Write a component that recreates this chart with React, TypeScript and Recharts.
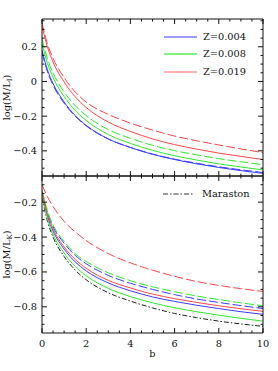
import React from 'react';
import { LineChart, Line, XAxis, YAxis, Legend, Label } from 'recharts';

// b values where the curves are sampled
const bValues = [0, 0.25, 0.5, 1, 1.5, 2, 3, 4, 5, 6, 7, 8, 9, 10];

// top panel: log(M/L_I)
const iZ004Solid = [0.18, 0.066, -0.012, -0.118, -0.196, -0.253, -0.331, -0.381, -0.42, -0.45, -0.475, -0.496, -0.514, -0.53];
const iZ004Dash = [0.165, 0.055, -0.021, -0.125, -0.2, -0.256, -0.332, -0.38, -0.418, -0.448, -0.471, -0.492, -0.509, -0.525];
const iZ008Solid = [0.22, 0.103, 0.023, -0.087, -0.167, -0.225, -0.306, -0.357, -0.397, -0.428, -0.453, -0.475, -0.493, -0.51];
const iZ008Dash = [0.245, 0.129, 0.049, -0.06, -0.139, -0.197, -0.277, -0.328, -0.368, -0.399, -0.423, -0.445, -0.463, -0.48];
const iZ019Solid = [0.32, 0.197, 0.112, -0.003, -0.088, -0.15, -0.234, -0.288, -0.331, -0.364, -0.39, -0.413, -0.432, -0.45];
const iZ019Dash = [0.335, 0.216, 0.134, 0.022, -0.06, -0.119, -0.19, -0.24, -0.28, -0.315, -0.342, -0.366, -0.389, -0.41];

// bottom panel: log(M/L_K)
const kZ004Solid = [-0.15, -0.282, -0.365, -0.469, -0.542, -0.594, -0.663, -0.708, -0.743, -0.769, -0.791, -0.81, -0.828, -0.843];
const kZ004Dash = [-0.14, -0.262, -0.34, -0.435, -0.505, -0.553, -0.62, -0.665, -0.7, -0.73, -0.755, -0.775, -0.793, -0.81];
const kZ008Solid = [-0.16, -0.297, -0.384, -0.492, -0.568, -0.622, -0.694, -0.741, -0.777, -0.805, -0.828, -0.848, -0.866, -0.882];
const kZ008Dash = [-0.13, -0.25, -0.33, -0.425, -0.495, -0.54, -0.605, -0.65, -0.685, -0.713, -0.738, -0.758, -0.777, -0.794];
const kZ019Solid = [-0.14, -0.27, -0.353, -0.456, -0.528, -0.579, -0.648, -0.692, -0.727, -0.753, -0.775, -0.794, -0.811, -0.826];
const kZ019Dash = [-0.1, -0.17, -0.225, -0.31, -0.37, -0.42, -0.495, -0.548, -0.59, -0.625, -0.655, -0.677, -0.696, -0.712];
const kMaraston = [-0.17, -0.311, -0.4, -0.511, -0.589, -0.645, -0.719, -0.767, -0.806, -0.838, -0.862, -0.882, -0.898, -0.912];

// ticks
const xTicks = [0, 0.5, 1, 1.5, 2, 2.5, 3, 3.5, 4, 4.5, 5, 5.5, 6, 6.5, 7, 7.5, 8, 8.5, 9, 9.5, 10];
const xMajor = [0, 2, 4, 6, 8, 10];
const topYTicks = [-0.5, -0.45, -0.4, -0.35, -0.3, -0.25, -0.2, -0.15, -0.1, -0.05, 0, 0.05, 0.1, 0.15, 0.2, 0.25, 0.3, 0.35];
const topYMajor = [-0.4, -0.2, 0, 0.2];
const botYTicks = [-0.9, -0.85, -0.8, -0.75, -0.7, -0.65, -0.6, -0.55, -0.5, -0.45, -0.4, -0.35, -0.3, -0.25, -0.2, -0.15, -0.1];
const botYMajor = [-0.8, -0.6, -0.4, -0.2];

const FONT = '"DejaVu Serif", serif';
const INK = '#111';
const BLUE = '#3c3cff';
const GREEN = '#2ee82e';
const RED = '#ff4646';
const DASH = '9 3';

const topData = bValues.map((b, i) => ({
  b,
  z004: iZ004Solid[i],
  z004d: iZ004Dash[i],
  z008: iZ008Solid[i],
  z008d: iZ008Dash[i],
  z019: iZ019Solid[i],
  z019d: iZ019Dash[i],
}));

const bottomData = bValues.map((b, i) => ({
  b,
  z004: kZ004Solid[i],
  z004d: kZ004Dash[i],
  z008: kZ008Solid[i],
  z008d: kZ008Dash[i],
  z019: kZ019Solid[i],
  z019d: kZ019Dash[i],
  mar: kMaraston[i],
}));

const fmt = (v: number) => {
  if (Math.abs(v) < 1e-9) return '0';
  const s = Number.isInteger(v) ? String(Math.abs(v)) : Math.abs(v).toFixed(1);
  return v < 0 ? '\u2212' + s : s;
};

// ticks point into the plot box; minor ones are shorter
const makeTick = (side: string, labelled: boolean, majors: number[]) => (props: any) => {
  const { x, y, payload } = props;
  const v = payload.value;
  const major = majors.some((m) => Math.abs(m - v) < 1e-6);
  const len = major ? 5 : 2.5;
  let x2 = x;
  let y2 = y;
  if (side === 'left') x2 = x + len;
  if (side === 'right') x2 = x - len;
  if (side === 'top') y2 = y + len;
  if (side === 'bottom') y2 = y - len;
  return (
    <g>
      <line x1={x} y1={y} x2={x2} y2={y2} stroke={INK} strokeWidth={1} />
      {labelled && major && side === 'left' && (
        <text x={x - 5} y={y + 3.5} textAnchor="end" fontFamily={FONT} fontSize={9.8} fill={INK}>
          {fmt(v)}
        </text>
      )}
      {labelled && major && side === 'bottom' && (
        <text x={x} y={y + 13.5} textAnchor="middle" fontFamily={FONT} fontSize={9.8} fill={INK}>
          {fmt(v)}
        </text>
      )}
    </g>
  );
};

const yLabel = (sub: string) => (props: any) => {
  const vb = props.viewBox || { x: 0, y: 0, width: 42, height: 157 };
  const cx = vb.x + 9.5;
  const cy = vb.y + vb.height / 2;
  return (
    <text transform={`translate(${cx},${cy}) rotate(-90)`} textAnchor="middle" fontFamily={FONT} fontSize={9.8} fill={INK}>
      <tspan>log(M/L</tspan>
      <tspan fontSize={7} dy={2}>{sub}</tspan>
      <tspan dy={-2}>)</tspan>
    </text>
  );
};

const xLabel = (props: any) => {
  const vb = props.viewBox || { x: 42, y: 158, width: 221, height: 38 };
  return (
    <text x={vb.x + vb.width / 2} y={vb.y + 24} textAnchor="middle" fontFamily={FONT} fontSize={9.8} fill={INK}>
      b
    </text>
  );
};

const legendLook: Record<string, { color: string; dash?: string }> = {
  'Z=0.004': { color: '#7c7cff' },
  'Z=0.008': { color: '#55ee55' },
  'Z=0.019': { color: '#ff9a9a' },
  Maraston: { color: '#333', dash: '5 2 1.5 2' },
};

const renderLegend = (lineWidth: number, gap: number) => (props: any) => {
  const items = (props.payload || []).filter((p: any) => legendLook[p.value]);
  return (
    <div>
      {items.map((p: any) => {
        const look = legendLook[p.value];
        return (
          <div key={p.value} style={{ display: 'flex', alignItems: 'center', height: 17.2 }}>
            <svg width={lineWidth} height={4} style={{ marginRight: gap }}>
              <line x1={0} y1={2} x2={lineWidth} y2={2} stroke={look.color} strokeWidth={look.dash ? 1 : 1.6} strokeDasharray={look.dash} />
            </svg>
            <span style={{ fontFamily: FONT, fontSize: 9.8, color: INK, lineHeight: '12px' }}>{p.value}</span>
          </div>
        );
      })}
    </div>
  );
};

const axisLine = { stroke: INK, strokeWidth: 1 };

const App: React.FC = () => {
  return (
    <div style={{ position: 'absolute', left: 0, top: 0, width: 278, height: 371, background: '#fff' }}>
      <div style={{ position: 'absolute', left: 0, top: 0 }}>
        <LineChart width={278} height={177} data={topData} margin={{ top: 18, right: 14, bottom: 0, left: 0 }}>
          <XAxis dataKey="b" type="number" domain={[0, 10]} ticks={xTicks} interval={0} allowDataOverflow
            height={1} tickSize={0} tickMargin={0} axisLine={axisLine} tickLine={false} tick={makeTick('bottom', false, xMajor)} />
          <XAxis xAxisId="top" orientation="top" dataKey="b" type="number" domain={[0, 10]} ticks={xTicks} interval={0} allowDataOverflow
            height={1} tickSize={0} tickMargin={0} axisLine={axisLine} tickLine={false} tick={makeTick('top', false, xMajor)} />
          <YAxis type="number" domain={[-0.545, 0.36]} ticks={topYTicks} interval={0} allowDataOverflow width={42}
            tickSize={0} tickMargin={0} axisLine={axisLine} tickLine={false} tick={makeTick('left', true, topYMajor)}>
            <Label content={yLabel('I')} />
          </YAxis>
          <YAxis yAxisId="right" orientation="right" type="number" domain={[-0.545, 0.36]} ticks={topYTicks} interval={0} allowDataOverflow width={1}
            tickSize={0} tickMargin={0} axisLine={axisLine} tickLine={false} tick={makeTick('right', false, topYMajor)} />
          <Legend layout="horizontal" verticalAlign="middle" align="center" content={renderLegend(33, 6)}
            wrapperStyle={{ left: 164, top: 28.7, width: 110 }} />
          <Line type="monotone" dataKey="z004d" name="z004d" stroke={BLUE} strokeDasharray={DASH} dot={false} legendType="none" isAnimationActive={false} />
          <Line type="monotone" dataKey="z008d" name="z008d" stroke={GREEN} strokeDasharray={DASH} dot={false} legendType="none" isAnimationActive={false} />
          <Line type="monotone" dataKey="z019d" name="z019d" stroke={RED} strokeDasharray={DASH} dot={false} legendType="none" isAnimationActive={false} />
          <Line type="monotone" dataKey="z004" name="Z=0.004" stroke={BLUE} dot={false} isAnimationActive={false} />
          <Line type="monotone" dataKey="z008" name="Z=0.008" stroke={GREEN} dot={false} isAnimationActive={false} />
          <Line type="monotone" dataKey="z019" name="Z=0.019" stroke={RED} dot={false} isAnimationActive={false} />
        </LineChart>
      </div>
      <div style={{ position: 'absolute', left: 0, top: 175 }}>
        <LineChart width={278} height={196} data={bottomData} margin={{ top: 0, right: 14, bottom: 0, left: 0 }}>
          <XAxis dataKey="b" type="number" domain={[0, 10]} ticks={xTicks} interval={0} allowDataOverflow
            height={38} tickSize={0} tickMargin={0} axisLine={axisLine} tickLine={false} tick={makeTick('bottom', true, xMajor)}>
            <Label content={xLabel} />
          </XAxis>
          <XAxis xAxisId="top" orientation="top" dataKey="b" type="number" domain={[0, 10]} ticks={xTicks} interval={0} allowDataOverflow
            height={1} tickSize={0} tickMargin={0} axisLine={axisLine} tickLine={false} tick={makeTick('top', false, xMajor)} />
          <YAxis type="number" domain={[-0.95, -0.05]} ticks={botYTicks} interval={0} allowDataOverflow width={42}
            tickSize={0} tickMargin={0} axisLine={axisLine} tickLine={false} tick={makeTick('left', true, botYMajor)}>
            <Label content={yLabel('K')} />
          </YAxis>
          <YAxis yAxisId="right" orientation="right" type="number" domain={[-0.95, -0.05]} ticks={botYTicks} interval={0} allowDataOverflow width={1}
            tickSize={0} tickMargin={0} axisLine={axisLine} tickLine={false} tick={makeTick('right', false, botYMajor)} />
          <Legend layout="horizontal" verticalAlign="middle" align="center" content={renderLegend(30, 9)}
            wrapperStyle={{ left: 163, top: 10.4, width: 110 }} />
          <Line type="monotone" dataKey="mar" name="Maraston" stroke="#222" strokeDasharray="5 2 1.5 2" dot={false} isAnimationActive={false} />
          <Line type="monotone" dataKey="z004d" name="z004d" stroke={BLUE} strokeDasharray={DASH} dot={false} legendType="none" isAnimationActive={false} />
          <Line type="monotone" dataKey="z008d" name="z008d" stroke={GREEN} strokeDasharray={DASH} dot={false} legendType="none" isAnimationActive={false} />
          <Line type="monotone" dataKey="z019d" name="z019d" stroke={RED} strokeDasharray={DASH} dot={false} legendType="none" isAnimationActive={false} />
          <Line type="monotone" dataKey="z004" name="z004" stroke={BLUE} dot={false} legendType="none" isAnimationActive={false} />
          <Line type="monotone" dataKey="z008" name="z008" stroke={GREEN} dot={false} legendType="none" isAnimationActive={false} />
          <Line type="monotone" dataKey="z019" name="z019" stroke={RED} dot={false} legendType="none" isAnimationActive={false} />
        </LineChart>
      </div>
    </div>
  );
};

export default App;
